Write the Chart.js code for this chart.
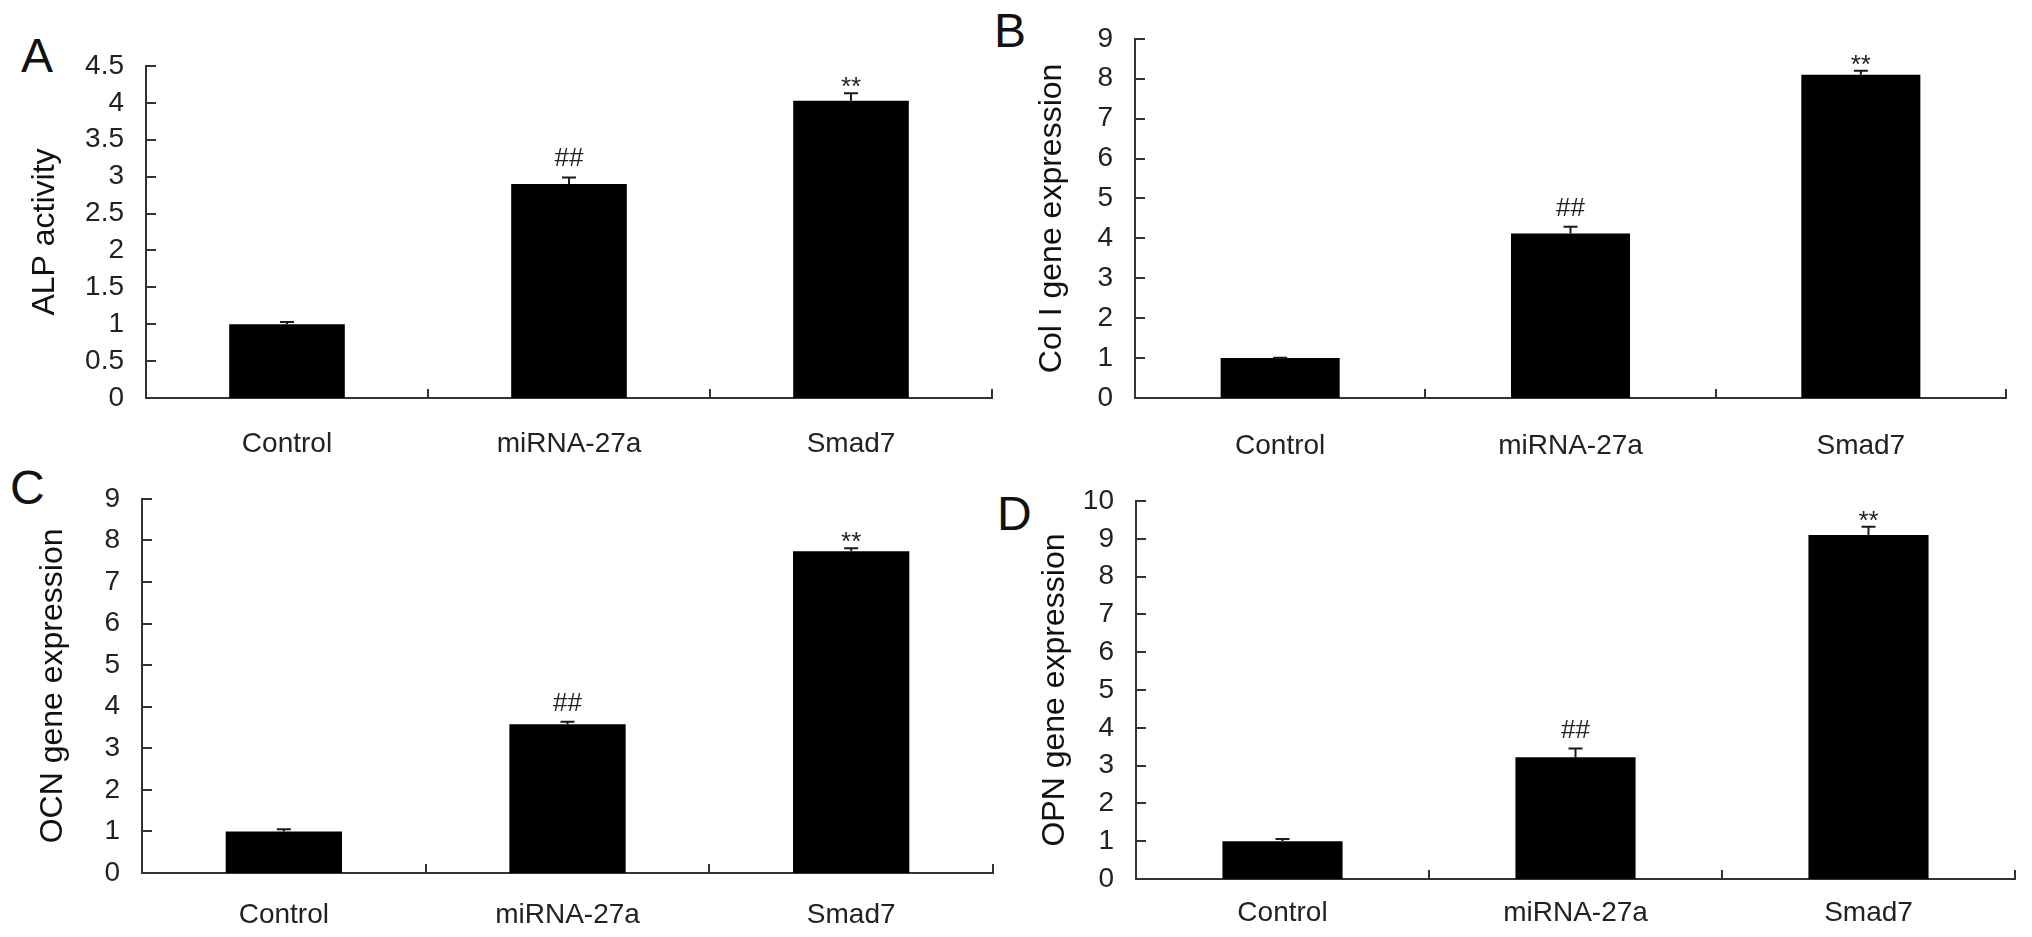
<!DOCTYPE html>
<html>
<head>
<meta charset="utf-8">
<script src="https://cdn.jsdelivr.net/npm/chart.js@4.4.1/dist/chart.umd.min.js"></script>
<style>
  html, body { margin: 0; padding: 0; background: #fff; }
  body { width: 2032px; height: 937px; position: relative; overflow: hidden; font-family: "Liberation Sans", Arial, sans-serif; }
  .panel { position: absolute; }
  .letter { position: absolute; font-size: 48px; line-height: 1; color: #111; }
</style>
</head>
<body>
<div class="letter" style="left:21px;top:32px">A</div>
<div class="letter" style="left:994px;top:7px">B</div>
<div class="letter" style="left:10px;top:464px">C</div>
<div class="letter" style="left:997px;top:490px">D</div>

<div class="panel" style="left:0;top:0;width:1002px;height:470px"><canvas id="chartA"></canvas></div>
<div class="panel" style="left:1000px;top:0;width:1016px;height:470px"><canvas id="chartB"></canvas></div>
<div class="panel" style="left:0;top:460px;width:1003px;height:477px"><canvas id="chartC"></canvas></div>
<div class="panel" style="left:1000px;top:460px;width:1025px;height:477px"><canvas id="chartD"></canvas></div>

<script>
// groups and significance marks
const groups = ['Control', 'miRNA-27a', 'Smad7'];
const marks = ['', '##', '**'];

// A - ALP activity
const alpMean = [1.0, 2.90, 4.03];
const alpErr = [0.03, 0.09, 0.10];
const alpTicks = [0, 0.5, 1, 1.5, 2, 2.5, 3, 3.5, 4, 4.5];

// B - Col I
const colMean = [1.0, 4.12, 8.10];
const colErr = [0.01, 0.17, 0.10];
const colTicks = [0, 1, 2, 3, 4, 5, 6, 7, 8, 9];

// C - OCN
const ocnMean = [1.0, 3.58, 7.74];
const ocnErr = [0.05, 0.06, 0.07];
const ocnTicks = [0, 1, 2, 3, 4, 5, 6, 7, 8, 9];

// D - OPN
const opnMean = [1.0, 3.22, 9.10];
const opnErr = [0.06, 0.23, 0.22];
const opnTicks = [0, 1, 2, 3, 4, 5, 6, 7, 8, 9, 10];

const FONT = '"Liberation Sans", Arial, sans-serif';
const axisColor = '#333';
Chart.defaults.font.family = FONT;

// error bars (upper half only) + ## / ** marks
const errorBars = {
  id: 'errorBars',
  afterDatasetsDraw(chart, args, opts) {
    const ctx = chart.ctx;
    const y = chart.scales.y;
    const meta = chart.getDatasetMeta(0);
    ctx.save();
    ctx.strokeStyle = '#1a1a1a';
    ctx.lineWidth = 2;
    meta.data.forEach((bar, i) => {
      const top = y.getPixelForValue(opts.mean[i] + opts.err[i]);
      ctx.beginPath();
      ctx.moveTo(bar.x, bar.y);
      ctx.lineTo(bar.x, top);
      ctx.moveTo(bar.x - 7, top);
      ctx.lineTo(bar.x + 7, top);
      ctx.stroke();
      const m = marks[i];
      if (m) {
        ctx.fillStyle = '#222';
        ctx.font = '26px ' + FONT;
        ctx.textAlign = 'center';
        ctx.textBaseline = 'alphabetic';
        // asterisks sit high in the glyph box, hashes start at the baseline
        ctx.fillText(m, bar.x, m === '**' ? top + 2 : top - 11);
      }
    });
    ctx.restore();
  }
};

// tick marks pointing into the plot
const innerTicks = {
  id: 'innerTicks',
  afterDraw(chart) {
    const {ctx, chartArea} = chart;
    const x = chart.scales.x, y = chart.scales.y;
    ctx.save();
    ctx.strokeStyle = axisColor;
    ctx.lineWidth = 2;
    ctx.beginPath();
    y.ticks.forEach(t => {
      const py = Math.round(y.getPixelForValue(t.value));
      ctx.moveTo(chartArea.left, py);
      ctx.lineTo(chartArea.left + 10, py);
    });
    for (let i = 1; i <= groups.length; i++) {
      const px = Math.round(x.getPixelForValue(i - 0.5));
      ctx.moveTo(px, chartArea.bottom);
      ctx.lineTo(px, chartArea.bottom - 9);
    }
    ctx.stroke();
    ctx.restore();
  }
};

function makeChart(id, mean, err, ticks, title, cfg) {
  return new Chart(document.getElementById(id), {
    type: 'bar',
    data: {
      labels: groups,
      datasets: [{
        data: mean,
        backgroundColor: '#000',
        borderWidth: 0,
        barPercentage: 0.41,
        categoryPercentage: 1
      }]
    },
    options: {
      responsive: true,
      maintainAspectRatio: false,
      animation: false,
      layout: { padding: { top: cfg.padTop, right: 10, left: 0, bottom: 0 } },
      plugins: {
        legend: { display: false },
        tooltip: { enabled: false },
        errorBars: { mean: mean, err: err }
      },
      scales: {
        x: {
          grid: { display: false, drawTicks: false },
          border: { display: true, color: axisColor, width: 2 },
          ticks: { color: '#222', font: { size: 28 }, padding: cfg.labelPad, maxRotation: 0 },
          afterFit: s => { s.height = cfg.xHeight; }
        },
        y: {
          min: ticks[0],
          max: ticks[ticks.length - 1],
          afterBuildTicks: s => { s.ticks = ticks.map(v => ({ value: v })); },
          afterFit: s => { s.width = cfg.yWidth; },
          grid: { display: false, drawTicks: false },
          border: { display: true, color: axisColor, width: 2 },
          ticks: {
            color: '#222',
            font: { size: 28 },
            padding: 22,
            autoSkip: false,
            callback: v => String(v)   // 1, 1.5, 2 ... no trailing .0
          },
          title: {
            display: true,
            text: title,
            color: '#111',
            font: { size: 32 },
            padding: { top: cfg.titlePad, bottom: 0 }
          }
        }
      }
    },
    plugins: [errorBars, innerTicks]
  });
}

makeChart('chartA', alpMean, alpErr, alpTicks, 'ALP activity',
  { padTop: 66, yWidth: 146, xHeight: 72, labelPad: 29, titlePad: 26 });
makeChart('chartB', colMean, colErr, colTicks, 'Col I gene expression',
  { padTop: 37, yWidth: 135, xHeight: 72, labelPad: 31, titlePad: 33 });
makeChart('chartC', ocnMean, ocnErr, ocnTicks, 'OCN gene expression',
  { padTop: 33, yWidth: 142, xHeight: 64, labelPad: 25, titlePad: 34 });
makeChart('chartD', opnMean, opnErr, opnTicks, 'OPN gene expression',
  { padTop: 41, yWidth: 136, xHeight: 58, labelPad: 17, titlePad: 36 });
</script>
</body>
</html>
